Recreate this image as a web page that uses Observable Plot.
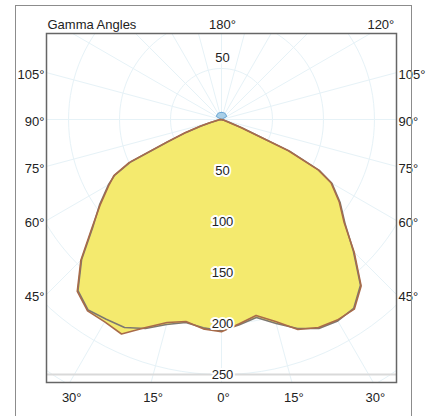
<!DOCTYPE html>
<html><head><meta charset="utf-8">
<script src="https://cdn.jsdelivr.net/npm/d3@7"></script>
<script src="https://cdn.jsdelivr.net/npm/@observablehq/plot@0.6"></script>
<style>
body{margin:0;background:#fff;}
#wrap{position:relative;width:426px;height:416px;overflow:hidden;}
#border{position:absolute;left:15px;top:5px;width:397px;height:420px;border:1.5px solid #8c8c8c;box-sizing:border-box;}
#wrap svg{position:absolute;left:0;top:0;}
</style></head><body>
<div id="wrap"></div>
<script>
// Gamma angles (degrees from nadir) and luminous intensity (cd) per half-plane
const gamma = [0,5,10,15,20,25,30,35,40,45,50,55,60,62.5,65,67.5,70,72.5,75,80,85,90,180];
const planeC0   = [205,201,195,205,219,225,227,227,213,184,157,141,124,107,72,20,5,2,0,0,0,0,0];
const planeC180 = [208,206,201,206,217,232,229,229,220,195,166,145,127,119,100,58,38,22,12,3,1,0,0];
const planeC90  = [206,202,197,207,218,226,228,226,212,183,158,142,125,108,74,22,6,2,0,0,0,0,0];
const planeC270 = [207,205,202,208,218,225,226,228,219,194,165,146,128,118,98,57,37,21,11,3,1,0,0];
// small upward component (blue)
const gammaUp = [90,120,150,165,180];
const upI = [0,6,7,7,7];

const ringValues = [50,100,150,200,250];
const ringLabels = ["50","100","150","200","250"];
const sideAngles = [105,90,75,60,45];
const sideLabels = ["105°","90°","75°","60°","45°"];
const bottomAngles = [-30,-15,0,15,30];
const bottomLabels = ["30°","15°","0°","15°","30°"];
const topAngles = [180,120];
const topLabels = ["180°","120°"];
const title = "Gamma Angles";

const XMAX = 171.6, YTOP = -84.3, YBOT = 257.8;
const rad = d => d*Math.PI/180;

function polygon(g, leftI, rightI, name){
  const out = [];
  for (let i=g.length-1;i>=0;i--) out.push({x:-leftI[i]*Math.sin(rad(g[i])), y:leftI[i]*Math.cos(rad(g[i])), s:name});
  for (let i=1;i<g.length;i++) out.push({x:rightI[i]*Math.sin(rad(g[i])), y:rightI[i]*Math.cos(rad(g[i])), s:name});
  return out;
}
const polyA = polygon(gamma, planeC180, planeC0, "C0-C180");
const polyB = polygon(gamma, planeC270, planeC90, "C90-C270");
const polyUp = polygon(gammaUp, upI, upI, "up");

// grid
const circles = [];
for (const r of [50,100,150,200,250,300]) for (let a=0;a<=360;a+=3) circles.push({r, x:r*Math.sin(rad(a)), y:r*Math.cos(rad(a))});
const spokes = d3.range(0,360,15).map(a=>({x2:400*Math.sin(rad(a)), y2:400*Math.cos(rad(a))}));

const font = "13px";
const plot = Plot.plot({
  width:426, height:416,
  marginLeft:46, marginRight:30, marginTop:33, marginBottom:34,
  style:{fontFamily:"'Liberation Sans', Arial, sans-serif", background:"transparent"},
  x:{domain:[-XMAX, XMAX], axis:null},
  y:{domain:[YBOT, YTOP], axis:null},
  marks:[
    Plot.line(circles,{x:"x",y:"y",z:"r",stroke:"#e6f2f7",strokeWidth:1,clip:true}),
    Plot.link(spokes,{x1:0,y1:0,x2:"x2",y2:"y2",stroke:"#e6f2f7",strokeWidth:1,clip:true}),
    Plot.ruleY([250],{stroke:"#d9d9d9",strokeWidth:2}),
    Plot.line(polyUp,{x:"x",y:"y",fill:"#a8cfe8",stroke:"#6aa6d4",strokeWidth:1}),
    Plot.line(polyA,{x:"x",y:"y",fill:"#f4ea6e",stroke:null}),
    Plot.line(polyB,{x:"x",y:"y",fill:"#f4ea6e",stroke:null}),
    Plot.line(polyB,{x:"x",y:"y",stroke:"#7d7871",strokeWidth:1.6}),
    Plot.line(polyA,{x:"x",y:"y",stroke:"#a86b4a",strokeWidth:1.6}),
    Plot.frame({stroke:"#666",strokeWidth:1.5}),
    // radial ring labels
    Plot.text(ringValues,{x:0,y:d=>d,text:(d,i)=>ringLabels[i],fontSize:font,fill:"#222",stroke:"white",strokeWidth:4,dx:1}),
    Plot.text([50],{x:0,y:d=>-d,text:d=>String(d),fontSize:font,fill:"#222",stroke:"white",strokeWidth:4,dx:1,dy:-11}),
    // side labels
    Plot.text(sideAngles,{x:-XMAX,y:d=>XMAX/Math.tan(rad(d)),text:(d,i)=>sideLabels[i],fontSize:font,fill:"#222",textAnchor:"end",dx:-2,dy:2}),
    Plot.text(sideAngles,{x:XMAX,y:d=>XMAX/Math.tan(rad(d)),text:(d,i)=>sideLabels[i],fontSize:font,fill:"#222",textAnchor:"start",dx:2,dy:2}),
    // bottom labels
    Plot.text(bottomAngles,{x:d=>YBOT*Math.tan(rad(d)),y:YBOT,text:(d,i)=>bottomLabels[i],fontSize:font,fill:"#222",dy:15,dx:2}),
    // top labels
    Plot.text([topAngles[0]],{x:0,y:YTOP,text:()=>topLabels[0],fontSize:font,fill:"#222",dy:-9,dx:1}),
    Plot.text([topAngles[1]],{x:d=>-YTOP*Math.tan(rad(180-d)),y:YTOP,text:()=>topLabels[1],fontSize:font,fill:"#222",dy:-9,textAnchor:"start",dx:-3}),
    Plot.text([title],{x:-XMAX,y:YTOP,text:d=>d,fontSize:font,fill:"#222",textAnchor:"start",dy:-9,dx:1})
  ]
});
const wrap = document.getElementById("wrap");
wrap.appendChild(plot);
const b = document.createElement("div"); b.id="border"; wrap.appendChild(b);
</script>
</body></html>
